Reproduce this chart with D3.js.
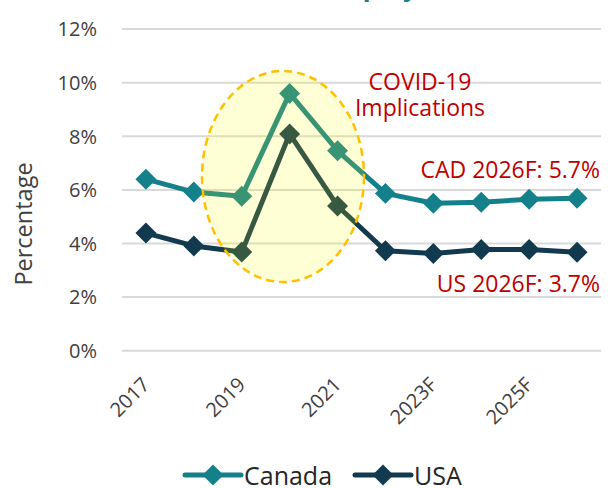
<!DOCTYPE html>
<html>
<head>
<meta charset="utf-8">
<script src="https://cdn.jsdelivr.net/npm/d3@7"></script>
<style>
  body { margin: 0; background: #fff; }
  svg { display: block; font-family: "Open Sans", "Noto Sans", sans-serif; }
</style>
</head>
<body>
<div id="chart"></div>
<script>
// chart data
var years = ["2017", "2018", "2019", "2020", "2021", "2022", "2023F", "2024F", "2025F", "2026F"];
var tickLabels = ["2017", "2019", "2021", "2023F", "2025F"];
var canada = [6.4, 5.92, 5.76, 9.6, 7.46, 5.87, 5.5, 5.54, 5.65, 5.69];
var usa = [4.39, 3.91, 3.68, 8.09, 5.4, 3.73, 3.63, 3.78, 3.78, 3.67];
var yTicks = [0, 2, 4, 6, 8, 10, 12];
var seriesNames = ["Canada", "USA"];
var seriesColors = ["#13808A", "#123A4E"];

var width = 616, height = 488;

var svg = d3.select("#chart").append("svg")
    .attr("width", width)
    .attr("height", height);

var x = d3.scaleBand()
    .domain(years)
    .range([122, 601]);

var y = d3.scaleLinear()
    .domain([0, 12])
    .range([350.7, 29.1]);

function cx(d) { return x(d) + x.bandwidth() / 2; }

// title, mostly cropped off the top
svg.append("text")
    .attr("x", 285)
    .attr("y", -4)
    .attr("fill", "#13808A")
    .attr("font-weight", "bold")
    .attr("font-size", 26)
    .text("Unemployment Rate");

// gridlines
svg.append("g")
    .selectAll("line")
    .data(yTicks)
    .join("line")
        .attr("x1", 122)
        .attr("x2", 601)
        .attr("y1", d => y(d))
        .attr("y2", d => y(d))
        .attr("stroke", "#D9D9D9")
        .attr("stroke-width", 2);

// y tick labels
svg.append("g")
    .selectAll("text")
    .data(yTicks)
    .join("text")
        .attr("x", 97)
        .attr("y", d => y(d))
        .attr("dy", "0.36em")
        .attr("text-anchor", "end")
        .attr("fill", "#404040")
        .attr("font-size", 20)
        .text(d => d + "%");

// y axis title
svg.append("text")
    .attr("transform", "translate(32,224) rotate(-90)")
    .attr("text-anchor", "middle")
    .attr("fill", "#404040")
    .attr("font-size", 23.5)
    .text("Percentage");

// x tick labels
svg.append("g")
    .selectAll("text")
    .data(tickLabels)
    .join("text")
        .attr("transform", d => "translate(" + (cx(d) - 5) + ",376) rotate(-45)")
        .attr("text-anchor", "end")
        .attr("dy", "0.7em")
        .attr("fill", "#404040")
        .attr("font-size", 20)
        .text(d => d);

var line = d3.line()
    .x(d => cx(d.year))
    .y(d => y(d.value));

var diamond = d3.symbol().type(d3.symbolSquare).size(220);

[canada, usa].forEach(function(values, i) {
    var pts = years.map((yr, j) => ({year: yr, value: values[j]}));
    svg.append("path")
        .datum(pts)
        .attr("d", line)
        .attr("fill", "none")
        .attr("stroke", seriesColors[i])
        .attr("stroke-width", 5)
        .attr("stroke-linejoin", "round");
    svg.append("g")
        .selectAll("path")
        .data(pts)
        .join("path")
            .attr("d", diamond)
            .attr("transform", d => "translate(" + cx(d.year) + "," + y(d.value) + ") rotate(45)")
            .attr("fill", seriesColors[i]);
});

// highlight ellipse over the covid years
svg.append("ellipse")
    .attr("cx", 283)
    .attr("cy", 176.5)
    .attr("rx", 81)
    .attr("ry", 105.5)
    .attr("fill", "#FFFF00")
    .attr("fill-opacity", 0.16)
    .attr("stroke", "#FFC000")
    .attr("stroke-width", 2.5)
    .attr("stroke-dasharray", "8,5");

// annotations
var red = "#C00000";
svg.append("text")
    .attr("x", 420).attr("y", 90)
    .attr("text-anchor", "middle")
    .attr("fill", red).attr("font-size", 23)
    .text("COVID-19");
svg.append("text")
    .attr("x", 420).attr("y", 116)
    .attr("text-anchor", "middle")
    .attr("fill", red).attr("font-size", 23)
    .text("Implications");
svg.append("text")
    .attr("x", 600).attr("y", 178)
    .attr("text-anchor", "end")
    .attr("fill", red).attr("font-size", 23)
    .text("CAD 2026F: " + canada[canada.length - 1].toFixed(1) + "%");
svg.append("text")
    .attr("x", 600).attr("y", 292)
    .attr("text-anchor", "end")
    .attr("fill", red).attr("font-size", 23)
    .text("US 2026F: " + usa[usa.length - 1].toFixed(1) + "%");

// legend
var legendX = [185, 355];
seriesNames.forEach(function(name, i) {
    var g = svg.append("g").attr("transform", "translate(" + legendX[i] + ",475)");
    g.append("line")
        .attr("x1", 0).attr("x2", 56)
        .attr("stroke", seriesColors[i])
        .attr("stroke-width", 5)
        .attr("stroke-linecap", "round");
    g.append("path")
        .attr("d", diamond)
        .attr("transform", "translate(28,0) rotate(45)")
        .attr("fill", seriesColors[i]);
    g.append("text")
        .attr("x", 59).attr("y", 10)
        .attr("fill", "#262626")
        .attr("font-size", 25)
        .text(name);
});
</script>
</body>
</html>
